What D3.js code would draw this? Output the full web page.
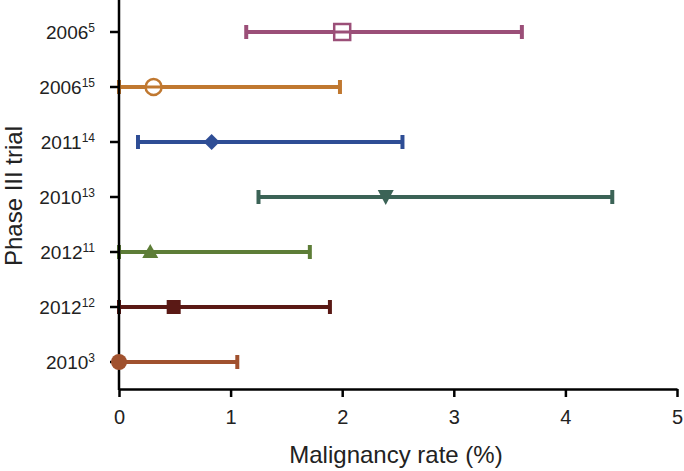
<!DOCTYPE html>
<html><head><meta charset="utf-8">
<script src="https://cdn.jsdelivr.net/npm/d3@7"></script>
<style>body{margin:0;background:#fff}svg{display:block;font-family:"Liberation Sans",Arial,sans-serif}</style>
</head><body><svg id="c" width="684" height="471"></svg>
<script>
const years = ["2006","2006","2011","2010","2012","2012","2010"];
const refs = ["5","15","14","13","11","12","3"];
const rates = [2.0, 0.31, 0.83, 2.39, 0.28, 0.49, 0.0];
const lows = [1.14, 0.0, 0.17, 1.25, 0.0, 0.0, 0.0];
const highs = [3.61, 1.98, 2.54, 4.42, 1.71, 1.89, 1.06];
const colors = ["#9b4f78","#c07830","#2e4d95","#3b6356","#5d7d37","#5a1915","#a0512e"];
const shapes = ["squareOpen","circleOpen","diamond","triDown","triUp","square","circle"];
const xTicks = [0,1,2,3,4,5];

const svg = d3.select("#c");
const x = d3.scaleLinear().domain([0,5]).range([119,677]);
const y = d3.scalePoint().domain(d3.range(years.length)).range([32,362]);

// bars
const g = svg.append("g");
years.forEach((yr,i)=>{
  const cy = y(i), c = colors[i];
  g.append("line").attr("x1",x(lows[i])).attr("x2",x(highs[i])).attr("y1",cy).attr("y2",cy)
    .attr("stroke",c).attr("stroke-width",4);
  [lows[i],highs[i]].forEach(v=>{
    g.append("line").attr("x1",x(v)).attr("x2",x(v)).attr("y1",cy-7).attr("y2",cy+7)
      .attr("stroke",c).attr("stroke-width",4);
  });
});

// axes
const xa = svg.append("g").attr("transform","translate(0,389)")
  .call(d3.axisBottom(x).tickValues(xTicks).tickFormat(d3.format("d")).tickSize(8).tickSizeOuter(0));
xa.select(".domain").attr("stroke","#000").attr("stroke-width",2.5);
xa.selectAll(".tick line").attr("stroke","#000").attr("stroke-width",2.5);
xa.selectAll(".tick text").attr("font-size",20).attr("fill","#222").attr("y",35).attr("dy",null);

svg.append("line").attr("x1",119).attr("x2",119).attr("y1",0).attr("y2",390)
  .attr("stroke","#000").attr("stroke-width",2.5);
years.forEach((yr,i)=>{
  svg.append("line").attr("x1",110).attr("x2",119).attr("y1",y(i)).attr("y2",y(i))
    .attr("stroke","#000").attr("stroke-width",2.5);
  const t = svg.append("text").attr("x",95).attr("y",y(i)+7).attr("text-anchor","end")
    .attr("font-size",19).attr("fill","#222");
  t.append("tspan").text(yr);
  t.append("tspan").attr("font-size",12).attr("dy",-7).text(refs[i]);
});

// markers
years.forEach((yr,i)=>{
  const cx = x(rates[i]), cy = y(i), c = colors[i];
  const s = shapes[i];
  if (s==="squareOpen") {
    svg.append("rect").attr("x",cx-8).attr("y",cy-8).attr("width",16).attr("height",16)
      .attr("fill","#fff").attr("stroke",c).attr("stroke-width",2.5);
    svg.append("line").attr("x1",cx-8).attr("x2",cx+8).attr("y1",cy).attr("y2",cy).attr("stroke",c).attr("stroke-width",3);
  } else if (s==="circleOpen") {
    svg.append("circle").attr("cx",cx).attr("cy",cy).attr("r",8)
      .attr("fill","#fff").attr("stroke",c).attr("stroke-width",2.5);
    svg.append("line").attr("x1",cx-8).attr("x2",cx+8).attr("y1",cy).attr("y2",cy).attr("stroke",c).attr("stroke-width",3);
  } else if (s==="diamond") {
    svg.append("path").attr("d",`M${cx},${cy-8}L${cx+8},${cy}L${cx},${cy+8}L${cx-8},${cy}Z`).attr("fill",c);
  } else if (s==="triDown") {
    svg.append("path").attr("d",`M${cx-8},${cy-7}L${cx+8},${cy-7}L${cx},${cy+8}Z`).attr("fill",c);
  } else if (s==="triUp") {
    svg.append("path").attr("d",`M${cx-8},${cy+6}L${cx+8},${cy+6}L${cx},${cy-8}Z`).attr("fill",c);
  } else if (s==="square") {
    svg.append("rect").attr("x",cx-7).attr("y",cy-7).attr("width",14).attr("height",14).attr("fill",c);
  } else {
    svg.append("circle").attr("cx",cx).attr("cy",cy).attr("r",8).attr("fill",c);
  }
});

svg.append("text").attr("x",396).attr("y",463).attr("text-anchor","middle")
  .attr("font-size",24).attr("fill","#222").text("Malignancy rate (%)");
svg.append("text").attr("transform","translate(22,196) rotate(-90)").attr("text-anchor","middle")
  .attr("font-size",24).attr("fill","#222").text("Phase III trial");
</script></body></html>
